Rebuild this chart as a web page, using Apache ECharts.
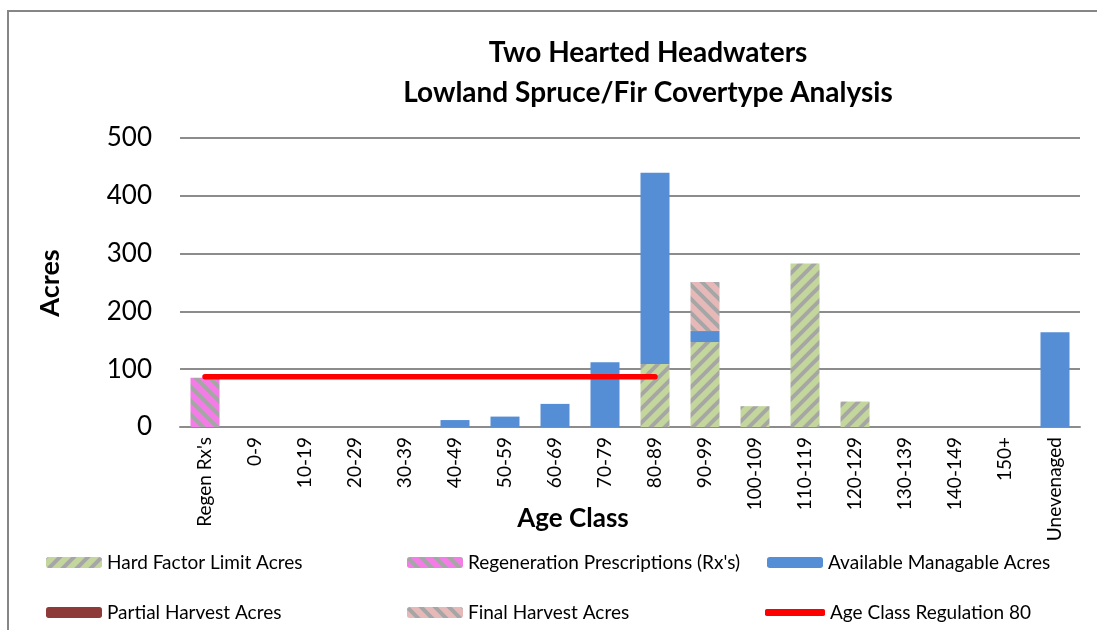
<!DOCTYPE html>
<html><head><meta charset="utf-8">
<script src="https://cdn.jsdelivr.net/npm/echarts@6/dist/echarts.min.js"></script>
<style>html,body{margin:0;padding:0;background:#fff}#c{width:1097px;height:630px}</style>
</head><body><div id="c"></div>
<script>
const categories = ["Regen Rx's","0-9","10-19","20-29","30-39","40-49","50-59","60-69","70-79","80-89","90-99","100-109","110-119","120-129","130-139","140-149","150+","Unevenaged"];
const hardFactor = [0,0,0,0,0,0,0,0,0,109,147,36,283,44,0,0,0,0];
const regenRx = [85,0,0,0,0,0,0,0,0,0,0,0,0,0,0,0,0,0];
const available = [0,0,0,0,0,12,18,40,112,331,19,0,0,0,0,0,0,164];
const partialHarvest = [0,0,0,0,0,0,0,0,0,0,0,0,0,0,0,0,0,0];
const finalHarvest = [0,0,0,0,0,0,0,0,0,0,85,0,0,0,0,0,0,0];
const regulation = [87,87,87,87,87,87,87,87,87,87,null,null,null,null,null,null,null,null];
const yTicks = [0,100,200,300,400,500];

function hatch(bg, stripe, dir) {
  const s = 14;
  const c = document.createElement('canvas');
  c.width = s; c.height = s;
  const ctx = c.getContext('2d');
  ctx.fillStyle = bg; ctx.fillRect(0,0,s,s);
  ctx.strokeStyle = stripe; ctx.lineWidth = 4; ctx.lineCap = 'square';
  for (let k = -s; k <= s; k += s) {
    ctx.beginPath();
    if (dir === '/') { ctx.moveTo(k, s); ctx.lineTo(k + s, 0); }
    else { ctx.moveTo(k, 0); ctx.lineTo(k + s, s); }
    ctx.stroke();
  }
  return { image: c, repeat: 'repeat' };
}
const greenPat = hatch('#c3d69b', '#a6a6a6', '/');
const pinkPat = hatch('#f47ce6', '#a6a6a6', '\\');
const finalPat = hatch('#e6b9b8', '#a6a6a6', '\\');

const FONT = 'Lato, "Open Sans", sans-serif';
const chart = echarts.init(document.getElementById('c'), null, {renderer: 'canvas'});
const legendText = {fontFamily: FONT, fontSize: 19, color: '#000'};
function lg(left, top, item, w, h) {
  return {left: left, top: top, padding: 0, orient: 'horizontal', itemWidth: w || 56, itemHeight: h || 11, textStyle: legendText, selectedMode: false, data: [item]};
}
const option = {
  animation: false,
  backgroundColor: '#fff',
  title: {
    text: 'Two Hearted Headwaters\nLowland Spruce/Fir Covertype Analysis',
    left: 643, top: 28, textAlign: 'center',
    textStyle: {fontFamily: FONT, fontSize: 28, fontWeight: 'bold', color: '#000', lineHeight: 40}
  },
  grid: {left: 180, right: 17, top: 138, bottom: 203, containLabel: false},
  xAxis: {
    type: 'category', data: categories,
    axisLine: {lineStyle: {color: '#8c8c8c', width: 2}},
    axisTick: {show: false},
    axisLabel: {rotate: 90, interval: 0, fontFamily: FONT, fontSize: 19, color: '#000', margin: 10}
  },
  yAxis: {
    type: 'value', min: 0, max: 500, interval: 100,
    axisLine: {show: false}, axisTick: {show: false},
    splitLine: {lineStyle: {color: '#8c8c8c', width: 2}},
    axisLabel: {fontFamily: FONT, fontSize: 26, color: '#000', margin: 28,
      formatter: v => yTicks.includes(v) ? String(v) : ''}
  },
  legend: [
    lg(46, 553, 'Hard Factor Limit Acres'),
    lg(46, 603, 'Partial Harvest Acres'),
    lg(407, 553, "Regeneration Prescriptions (Rx's)"),
    lg(407, 603, 'Final Harvest Acres'),
    lg(767, 553, 'Available Managable Acres'),
    lg(765, 603, {name: 'Age Class Regulation 80', icon: 'roundRect', itemStyle: {color: '#ff0000'}}, 60, 7)
  ],
  graphic: [
    {type: 'rect', shape: {x: 8, y: 11, width: 1200, height: 700}, style: {fill: 'none', stroke: '#868686', lineWidth: 2}, silent: true, z: -1},
    {type: 'text', x: 573, y: 519, style: {text: 'Age Class', font: 'bold 26px ' + FONT, fill: '#000', textAlign: 'center', textVerticalAlign: 'middle'}},
    {type: 'text', x: 50, y: 283, rotation: Math.PI / 2, style: {text: 'Acres', font: 'bold 27px ' + FONT, fill: '#000', textAlign: 'center', textVerticalAlign: 'middle'}}
  ],
  series: [
    {name: 'Hard Factor Limit Acres', type: 'bar', stack: 's', data: hardFactor, barWidth: 29, itemStyle: {color: greenPat}},
    {name: "Regeneration Prescriptions (Rx's)", type: 'bar', stack: 's', data: regenRx, itemStyle: {color: pinkPat}},
    {name: 'Available Managable Acres', type: 'bar', stack: 's', data: available, itemStyle: {color: '#558ed5'}},
    {name: 'Partial Harvest Acres', type: 'bar', stack: 's', data: partialHarvest, itemStyle: {color: '#8e3a38'}},
    {name: 'Final Harvest Acres', type: 'bar', stack: 's', data: finalHarvest, itemStyle: {color: finalPat}},
    {name: 'Age Class Regulation 80', type: 'line', data: regulation, showSymbol: false, symbol: 'none', z: 5,
      lineStyle: {color: '#ff0000', width: 5.5, cap: 'round'}, itemStyle: {color: '#ff0000'}}
  ]
};
chart.setOption(option);
</script></body></html>
